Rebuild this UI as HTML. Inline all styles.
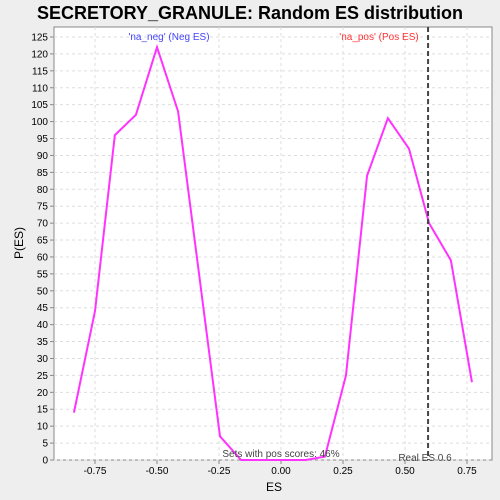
<!DOCTYPE html>
<html><head><meta charset="utf-8"><style>
body{margin:0;background:#eeeeee;font-family:"Liberation Sans",sans-serif}
svg{display:block}
</style></head><body>
<svg id="c" width="500" height="500" xmlns="http://www.w3.org/2000/svg">
<rect x="0" y="0" width="500" height="500" fill="#eeeeee"/>
<text x="250" y="19" text-anchor="middle" font-size="18" font-weight="bold" fill="#000">SECRETORY_GRANULE: Random ES distribution</text>
<rect x="54" y="27" width="438" height="433" fill="#fff" stroke="#888"/>
<g id="grid"></g><g id="axes"></g><g id="marks"></g>
<text x="169" y="40" text-anchor="middle" font-size="10" fill="#4444ff">'na_neg' (Neg ES)</text>
<text x="379" y="40" text-anchor="middle" font-size="10" fill="#ff3333">'na_pos' (Pos ES)</text>
<text x="281" y="457" text-anchor="middle" font-size="10" fill="#444">Sets with pos scores: 46%</text>
<text x="425" y="461" text-anchor="middle" font-size="10" fill="#444">Real ES 0.6</text>
<text x="274" y="491" text-anchor="middle" font-size="12" fill="#000">ES</text>
<text x="23" y="243" text-anchor="middle" font-size="12" fill="#000" transform="rotate(-90 23 243)">P(ES)</text>
</svg>
<script>
const esValues=[-0.835,-0.75,-0.67,-0.585,-0.5,-0.415,-0.246,-0.161,-0.08,0,0.1,0.177,0.262,0.347,0.431,0.516,0.597,0.685,0.77];
const probValues=[14,44,96,102,122,103,7,0,0,0,0,1,25,84,101,92,70,59,23];
const xTicks=[-0.75,-0.5,-0.25,0,0.25,0.5,0.75];
const xTickLabels=["-0.75","-0.50","-0.25","0.00","0.25","0.50","0.75"];
const yTicks=[0,5,10,15,20,25,30,35,40,45,50,55,60,65,70,75,80,85,90,95,100,105,110,115,120,125];
const realES=[0.593];
const NS="http://www.w3.org/2000/svg";
function X(v){return 281+v*248;}
function Y(v){return 460-v*3.384;}
function mk(t,a,p){const e=document.createElementNS(NS,t);for(const k in a)e.setAttribute(k,a[k]);p.appendChild(e);return e;}
const grid=document.getElementById('grid'),axes=document.getElementById('axes'),marks=document.getElementById('marks');
xTicks.forEach((t,i)=>{
 const g=mk('line',{x1:X(t),x2:X(t),y1:27,y2:460,stroke:'#ddd','stroke-dasharray':'3,3'},grid);
 
 
 mk('line',{x1:X(t),x2:X(t),y1:460,y2:464,stroke:'#888'},axes);
 const tx=mk('text',{x:X(t),y:474,'text-anchor':'middle','font-size':10,fill:'#000'},axes);
 tx.textContent=xTickLabels[i];
 
 
});
yTicks.forEach(t=>{
 const g=mk('line',{x1:54,x2:492,y1:Y(t),y2:Y(t),stroke:'#ddd','stroke-dasharray':'3,3'},grid);
 
 
 mk('line',{x1:50,x2:54,y1:Y(t),y2:Y(t),stroke:'#888'},axes);
 const tx=mk('text',{x:48,y:Y(t)+3.5,'text-anchor':'end','font-size':10,fill:'#000'},axes);
 tx.textContent=String(t);
 
 
});
const pl=mk('polyline',{points:esValues.map((v,i)=>X(v)+','+Y(probValues[i])).join(' '),fill:'none',stroke:'#ff33ff','stroke-width':2},marks);


const rl=mk('line',{x1:X(realES[0]),x2:X(realES[0]),y1:27,y2:460,stroke:'#444','stroke-width':2,'stroke-dasharray':'5,3'},marks);


</script>
</body></html>
